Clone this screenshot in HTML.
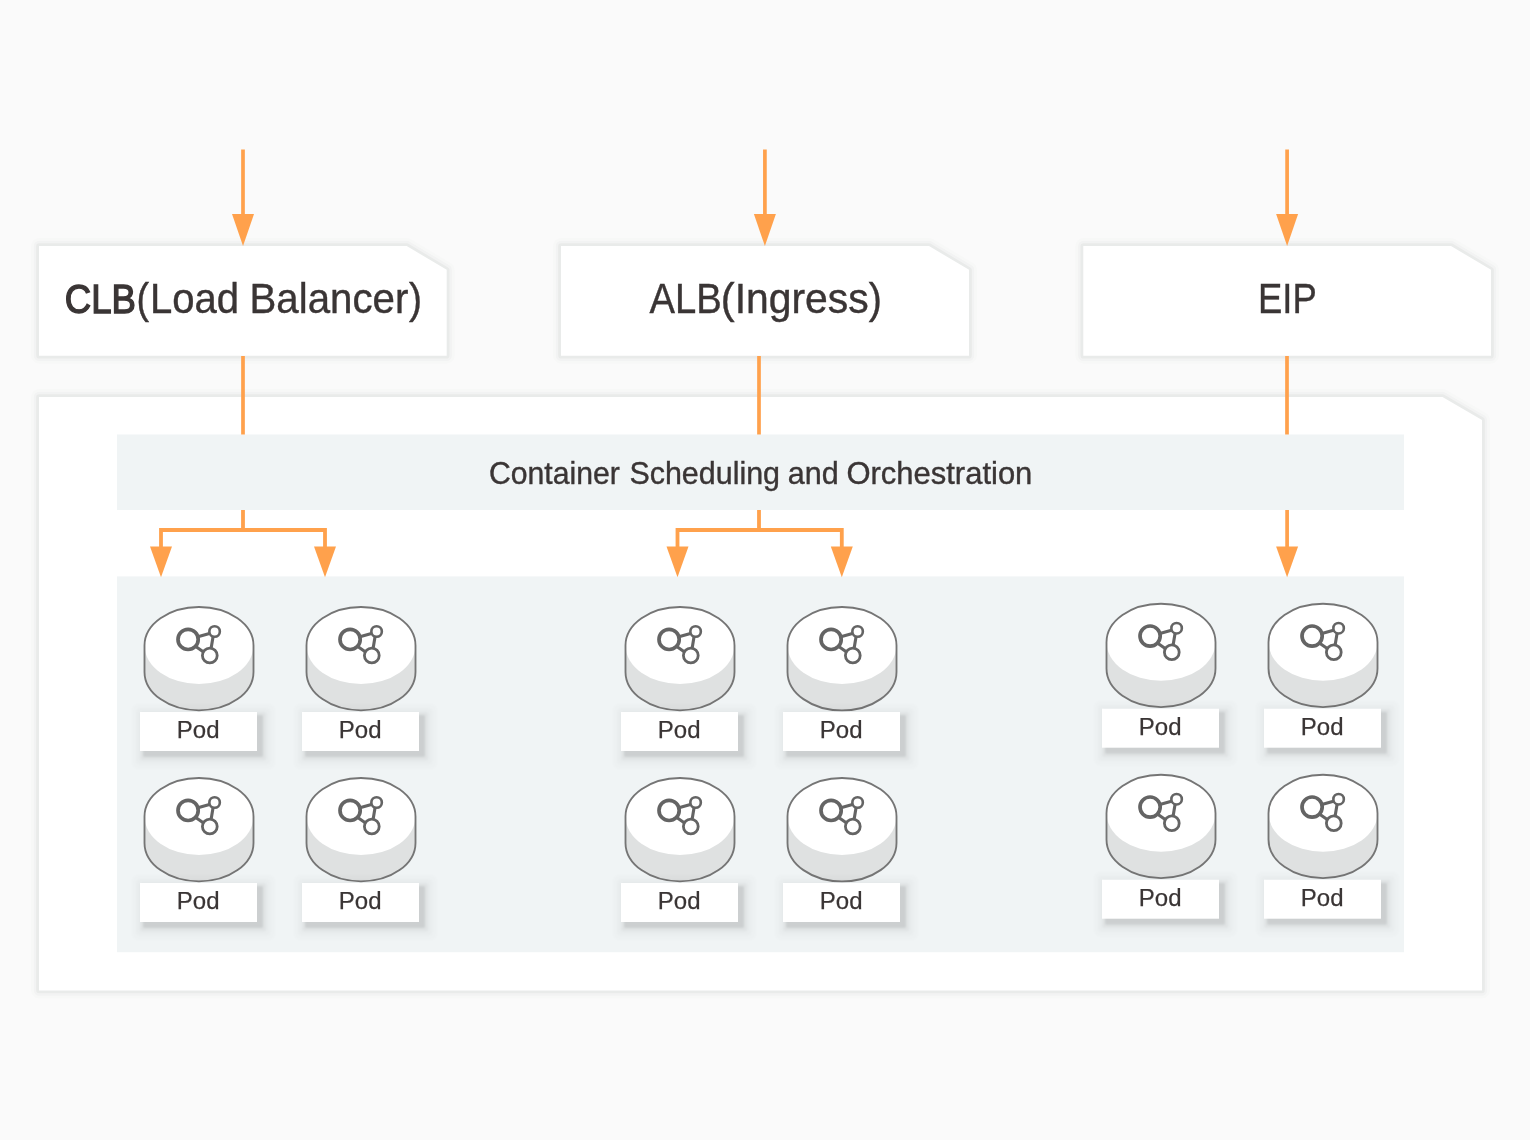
<!DOCTYPE html>
<html><head><meta charset="utf-8"><title>Diagram</title>
<style>
html,body{margin:0;padding:0;background:#FAFAFA;}
body{width:1530px;height:1140px;overflow:hidden;font-family:"Liberation Sans",sans-serif;}
svg{display:block;will-change:transform;}
text{font-family:"Liberation Sans",sans-serif;fill:#3A3535;}
</style></head><body>
<svg width="1530" height="1140" viewBox="0 0 1530 1140">
<defs>

<filter id="soft" color-interpolation-filters="sRGB" x="-5%" y="-10%" width="110%" height="120%"><feGaussianBlur stdDeviation="0.7"/></filter>
<filter id="soft2" color-interpolation-filters="sRGB" x="-20%" y="-40%" width="140%" height="180%"><feGaussianBlur stdDeviation="0.9"/></filter>

</defs>
<rect width="1530" height="1140" fill="#FAFAFA"/>

<g filter="url(#soft)" fill="none" stroke="#0a2e24" stroke-linejoin="round"><path d="M39 397 L1442.5 397 L1482 420 L1482 990.5 L39 990.5 Z" stroke-width="16" stroke-opacity="0.012"/><path d="M39 397 L1442.5 397 L1482 420 L1482 990.5 L39 990.5 Z" stroke-width="10.4" stroke-opacity="0.023"/><path d="M39 397 L1442.5 397 L1482 420 L1482 990.5 L39 990.5 Z" stroke-width="5.6" stroke-opacity="0.04"/></g><path d="M39 397 L1442.5 397 L1482 420 L1482 990.5 L39 990.5 Z" fill="#fff"/>
<g filter="url(#soft)" fill="none" stroke="#0a2e24" stroke-linejoin="round"><path d="M39 246 L406.7 246 L446.7 269.8 L446.7 355.7 L39 355.7 Z" stroke-width="16" stroke-opacity="0.012"/><path d="M39 246 L406.7 246 L446.7 269.8 L446.7 355.7 L39 355.7 Z" stroke-width="10.4" stroke-opacity="0.023"/><path d="M39 246 L406.7 246 L446.7 269.8 L446.7 355.7 L39 355.7 Z" stroke-width="5.6" stroke-opacity="0.04"/></g><path d="M39 246 L406.7 246 L446.7 269.8 L446.7 355.7 L39 355.7 Z" fill="#fff"/>
<g filter="url(#soft)" fill="none" stroke="#0a2e24" stroke-linejoin="round"><path d="M561 246 L929 246 L969 269.8 L969 355.7 L561 355.7 Z" stroke-width="16" stroke-opacity="0.012"/><path d="M561 246 L929 246 L969 269.8 L969 355.7 L561 355.7 Z" stroke-width="10.4" stroke-opacity="0.023"/><path d="M561 246 L929 246 L969 269.8 L969 355.7 L561 355.7 Z" stroke-width="5.6" stroke-opacity="0.04"/></g><path d="M561 246 L929 246 L969 269.8 L969 355.7 L561 355.7 Z" fill="#fff"/>
<g filter="url(#soft)" fill="none" stroke="#0a2e24" stroke-linejoin="round"><path d="M1083.3 246 L1451 246 L1491 269.8 L1491 355.7 L1083.3 355.7 Z" stroke-width="16" stroke-opacity="0.012"/><path d="M1083.3 246 L1451 246 L1491 269.8 L1491 355.7 L1083.3 355.7 Z" stroke-width="10.4" stroke-opacity="0.023"/><path d="M1083.3 246 L1451 246 L1491 269.8 L1491 355.7 L1083.3 355.7 Z" stroke-width="5.6" stroke-opacity="0.04"/></g><path d="M1083.3 246 L1451 246 L1491 269.8 L1491 355.7 L1083.3 355.7 Z" fill="#fff"/>
<rect x="117" y="434.5" width="1287" height="75.5" fill="#F0F4F5"/>
<rect x="117" y="576.4" width="1287" height="375.8" fill="#F0F4F5"/>
<rect x="241.15" y="149.5" width="3.7" height="66" fill="#FFA14C"/>
<path d="M232.0 214 L254.0 214 L243 246 Z" fill="#FFA14C"/>
<rect x="763.05" y="149.5" width="3.7" height="66" fill="#FFA14C"/>
<path d="M753.9 214 L775.9 214 L764.9 246 Z" fill="#FFA14C"/>
<rect x="1285.25" y="149.5" width="3.7" height="66" fill="#FFA14C"/>
<path d="M1276.1 214 L1298.1 214 L1287.1 246 Z" fill="#FFA14C"/>
<rect x="241.15" y="356" width="3.7" height="78.5" fill="#FFA14C"/>
<rect x="757.15" y="356" width="3.7" height="78.5" fill="#FFA14C"/>
<rect x="1285.15" y="356" width="3.7" height="78.5" fill="#FFA14C"/>
<path d="M243 510 L243 530 M161 547 L161 530 L325 530 L325 547" stroke="#FFA14C" stroke-width="3.8" fill="none" stroke-linejoin="miter"/>
<path d="M150.0 546.4000000000001 L172.0 546.4000000000001 L161 577.2 Z" fill="#FFA14C"/>
<path d="M314.0 546.4000000000001 L336.0 546.4000000000001 L325 577.2 Z" fill="#FFA14C"/>
<path d="M759 510 L759 530 M677.5 547 L677.5 530 L841.8 530 L841.8 547" stroke="#FFA14C" stroke-width="3.8" fill="none" stroke-linejoin="miter"/>
<path d="M666.5 546.4000000000001 L688.5 546.4000000000001 L677.5 577.2 Z" fill="#FFA14C"/>
<path d="M830.8 546.4000000000001 L852.8 546.4000000000001 L841.8 577.2 Z" fill="#FFA14C"/>
<rect x="1285.25" y="510" width="3.7" height="38" fill="#FFA14C"/>
<path d="M1276.1 546.4000000000001 L1298.1 546.4000000000001 L1287.1 577.2 Z" fill="#FFA14C"/>
<text x="64.76" y="312.6" font-size="41" stroke="#3A3535" stroke-width="1.4" textLength="71.3" lengthAdjust="spacingAndGlyphs">CLB</text>
<text x="136.46" y="312.8" font-size="42" stroke="#3A3535" stroke-width="0.4" textLength="12.54" lengthAdjust="spacingAndGlyphs">(</text>
<text x="149.9" y="312.8" font-size="42" stroke="#3A3535" stroke-width="0.4" textLength="89.12" lengthAdjust="spacingAndGlyphs">Load</text>
<text x="249.49" y="312.8" font-size="42" stroke="#3A3535" stroke-width="0.4" textLength="158.81" lengthAdjust="spacingAndGlyphs">Balancer</text>
<text x="408.9" y="312.8" font-size="42" stroke="#3A3535" stroke-width="0.4" textLength="13.03" lengthAdjust="spacingAndGlyphs">)</text>
<text x="649.43" y="312.8" font-size="42" stroke="#3A3535" stroke-width="0.4" textLength="72.22" lengthAdjust="spacingAndGlyphs">ALB</text>
<text x="720.82" y="312.8" font-size="42" stroke="#3A3535" stroke-width="0.4" textLength="13.88" lengthAdjust="spacingAndGlyphs">(</text>
<text x="734.65" y="312.8" font-size="42" stroke="#3A3535" stroke-width="0.4" textLength="134.05" lengthAdjust="spacingAndGlyphs">Ingress</text>
<text x="868.7" y="312.8" font-size="42" stroke="#3A3535" stroke-width="0.4" textLength="13.15" lengthAdjust="spacingAndGlyphs">)</text>
<text x="1257.98" y="312.8" font-size="42" stroke="#3A3535" stroke-width="0.4" textLength="58.71" lengthAdjust="spacingAndGlyphs">EIP</text>
<text x="488.99" y="484.1" font-size="32" stroke="#3A3535" stroke-width="0.4" textLength="130.85" lengthAdjust="spacingAndGlyphs">Container</text>
<text x="629.41" y="484.1" font-size="32" stroke="#3A3535" stroke-width="0.4" textLength="150.64" lengthAdjust="spacingAndGlyphs">Scheduling</text>
<text x="787.81" y="484.1" font-size="32" stroke="#3A3535" stroke-width="0.4" textLength="50.89" lengthAdjust="spacingAndGlyphs">and</text>
<text x="846.39" y="484.1" font-size="32" stroke="#3A3535" stroke-width="0.4" textLength="185.98" lengthAdjust="spacingAndGlyphs">Orchestration</text>
<path d="M144.5 645.5 L144.5 671.9 A54.5 38.5 0 0 0 253.5 671.9 L253.5 645.5 Z" fill="#DFE1E1"/>
<ellipse cx="199" cy="645.5" rx="54.5" ry="38.5" fill="#FFFFFF"/>
<path d="M144.5 645.5 A54.5 38.5 0 0 1 253.5 645.5 L253.5 671.9 A54.5 38.5 0 0 1 144.5 671.9 Z" fill="none" stroke="#757575" stroke-width="1.85" stroke-linejoin="round"/>
<g transform="translate(0 0)" stroke="#646464" fill="none"><path d="M197 637 L213 632.5 M213.5 634 L210.5 652 M195 646 L205 653" stroke-width="3.1"/><circle cx="188.1" cy="639.4" r="10.1" stroke-width="3.7" fill="#fff"/><circle cx="214.6" cy="631.5" r="5.25" stroke-width="2.6" fill="#fff"/><circle cx="209.8" cy="655.5" r="7.4" stroke-width="2.8" fill="#fff"/></g>
<g filter="url(#soft2)" fill="#000"><rect x="132" y="704" width="143" height="65" rx="6" fill-opacity="0.013"/><rect x="136" y="708" width="134.5" height="56.5" rx="4" fill-opacity="0.018"/><rect x="140" y="712" width="126.5" height="48.5" rx="2" fill-opacity="0.038"/><rect x="143" y="715" width="120" height="42" rx="1" fill-opacity="0.093"/></g>
<rect x="140" y="712" width="117" height="39" fill="#fff"/>
<text x="176.86" y="738.1" font-size="24.8" stroke="#3A3535" stroke-width="0.25" textLength="42.71" lengthAdjust="spacingAndGlyphs">Pod</text>
<path d="M144.5 816.5 L144.5 842.9 A54.5 38.5 0 0 0 253.5 842.9 L253.5 816.5 Z" fill="#DFE1E1"/>
<ellipse cx="199" cy="816.5" rx="54.5" ry="38.5" fill="#FFFFFF"/>
<path d="M144.5 816.5 A54.5 38.5 0 0 1 253.5 816.5 L253.5 842.9 A54.5 38.5 0 0 1 144.5 842.9 Z" fill="none" stroke="#757575" stroke-width="1.85" stroke-linejoin="round"/>
<g transform="translate(0 171)" stroke="#646464" fill="none"><path d="M197 637 L213 632.5 M213.5 634 L210.5 652 M195 646 L205 653" stroke-width="3.1"/><circle cx="188.1" cy="639.4" r="10.1" stroke-width="3.7" fill="#fff"/><circle cx="214.6" cy="631.5" r="5.25" stroke-width="2.6" fill="#fff"/><circle cx="209.8" cy="655.5" r="7.4" stroke-width="2.8" fill="#fff"/></g>
<g filter="url(#soft2)" fill="#000"><rect x="132" y="875" width="143" height="65" rx="6" fill-opacity="0.013"/><rect x="136" y="879" width="134.5" height="56.5" rx="4" fill-opacity="0.018"/><rect x="140" y="883" width="126.5" height="48.5" rx="2" fill-opacity="0.038"/><rect x="143" y="886" width="120" height="42" rx="1" fill-opacity="0.093"/></g>
<rect x="140" y="883" width="117" height="39" fill="#fff"/>
<text x="176.86" y="909.1" font-size="24.8" stroke="#3A3535" stroke-width="0.25" textLength="42.71" lengthAdjust="spacingAndGlyphs">Pod</text>
<path d="M306.5 645.5 L306.5 671.9 A54.5 38.5 0 0 0 415.5 671.9 L415.5 645.5 Z" fill="#DFE1E1"/>
<ellipse cx="361" cy="645.5" rx="54.5" ry="38.5" fill="#FFFFFF"/>
<path d="M306.5 645.5 A54.5 38.5 0 0 1 415.5 645.5 L415.5 671.9 A54.5 38.5 0 0 1 306.5 671.9 Z" fill="none" stroke="#757575" stroke-width="1.85" stroke-linejoin="round"/>
<g transform="translate(162 0)" stroke="#646464" fill="none"><path d="M197 637 L213 632.5 M213.5 634 L210.5 652 M195 646 L205 653" stroke-width="3.1"/><circle cx="188.1" cy="639.4" r="10.1" stroke-width="3.7" fill="#fff"/><circle cx="214.6" cy="631.5" r="5.25" stroke-width="2.6" fill="#fff"/><circle cx="209.8" cy="655.5" r="7.4" stroke-width="2.8" fill="#fff"/></g>
<g filter="url(#soft2)" fill="#000"><rect x="294" y="704" width="143" height="65" rx="6" fill-opacity="0.013"/><rect x="298" y="708" width="134.5" height="56.5" rx="4" fill-opacity="0.018"/><rect x="302" y="712" width="126.5" height="48.5" rx="2" fill-opacity="0.038"/><rect x="305" y="715" width="120" height="42" rx="1" fill-opacity="0.093"/></g>
<rect x="302" y="712" width="117" height="39" fill="#fff"/>
<text x="338.86" y="738.1" font-size="24.8" stroke="#3A3535" stroke-width="0.25" textLength="42.71" lengthAdjust="spacingAndGlyphs">Pod</text>
<path d="M306.5 816.5 L306.5 842.9 A54.5 38.5 0 0 0 415.5 842.9 L415.5 816.5 Z" fill="#DFE1E1"/>
<ellipse cx="361" cy="816.5" rx="54.5" ry="38.5" fill="#FFFFFF"/>
<path d="M306.5 816.5 A54.5 38.5 0 0 1 415.5 816.5 L415.5 842.9 A54.5 38.5 0 0 1 306.5 842.9 Z" fill="none" stroke="#757575" stroke-width="1.85" stroke-linejoin="round"/>
<g transform="translate(162 171)" stroke="#646464" fill="none"><path d="M197 637 L213 632.5 M213.5 634 L210.5 652 M195 646 L205 653" stroke-width="3.1"/><circle cx="188.1" cy="639.4" r="10.1" stroke-width="3.7" fill="#fff"/><circle cx="214.6" cy="631.5" r="5.25" stroke-width="2.6" fill="#fff"/><circle cx="209.8" cy="655.5" r="7.4" stroke-width="2.8" fill="#fff"/></g>
<g filter="url(#soft2)" fill="#000"><rect x="294" y="875" width="143" height="65" rx="6" fill-opacity="0.013"/><rect x="298" y="879" width="134.5" height="56.5" rx="4" fill-opacity="0.018"/><rect x="302" y="883" width="126.5" height="48.5" rx="2" fill-opacity="0.038"/><rect x="305" y="886" width="120" height="42" rx="1" fill-opacity="0.093"/></g>
<rect x="302" y="883" width="117" height="39" fill="#fff"/>
<text x="338.86" y="909.1" font-size="24.8" stroke="#3A3535" stroke-width="0.25" textLength="42.71" lengthAdjust="spacingAndGlyphs">Pod</text>
<path d="M625.5 645.5 L625.5 671.9 A54.5 38.5 0 0 0 734.5 671.9 L734.5 645.5 Z" fill="#DFE1E1"/>
<ellipse cx="680" cy="645.5" rx="54.5" ry="38.5" fill="#FFFFFF"/>
<path d="M625.5 645.5 A54.5 38.5 0 0 1 734.5 645.5 L734.5 671.9 A54.5 38.5 0 0 1 625.5 671.9 Z" fill="none" stroke="#757575" stroke-width="1.85" stroke-linejoin="round"/>
<g transform="translate(481 0)" stroke="#646464" fill="none"><path d="M197 637 L213 632.5 M213.5 634 L210.5 652 M195 646 L205 653" stroke-width="3.1"/><circle cx="188.1" cy="639.4" r="10.1" stroke-width="3.7" fill="#fff"/><circle cx="214.6" cy="631.5" r="5.25" stroke-width="2.6" fill="#fff"/><circle cx="209.8" cy="655.5" r="7.4" stroke-width="2.8" fill="#fff"/></g>
<g filter="url(#soft2)" fill="#000"><rect x="613" y="704" width="143" height="65" rx="6" fill-opacity="0.013"/><rect x="617" y="708" width="134.5" height="56.5" rx="4" fill-opacity="0.018"/><rect x="621" y="712" width="126.5" height="48.5" rx="2" fill-opacity="0.038"/><rect x="624" y="715" width="120" height="42" rx="1" fill-opacity="0.093"/></g>
<rect x="621" y="712" width="117" height="39" fill="#fff"/>
<text x="657.86" y="738.1" font-size="24.8" stroke="#3A3535" stroke-width="0.25" textLength="42.71" lengthAdjust="spacingAndGlyphs">Pod</text>
<path d="M625.5 816.5 L625.5 842.9 A54.5 38.5 0 0 0 734.5 842.9 L734.5 816.5 Z" fill="#DFE1E1"/>
<ellipse cx="680" cy="816.5" rx="54.5" ry="38.5" fill="#FFFFFF"/>
<path d="M625.5 816.5 A54.5 38.5 0 0 1 734.5 816.5 L734.5 842.9 A54.5 38.5 0 0 1 625.5 842.9 Z" fill="none" stroke="#757575" stroke-width="1.85" stroke-linejoin="round"/>
<g transform="translate(481 171)" stroke="#646464" fill="none"><path d="M197 637 L213 632.5 M213.5 634 L210.5 652 M195 646 L205 653" stroke-width="3.1"/><circle cx="188.1" cy="639.4" r="10.1" stroke-width="3.7" fill="#fff"/><circle cx="214.6" cy="631.5" r="5.25" stroke-width="2.6" fill="#fff"/><circle cx="209.8" cy="655.5" r="7.4" stroke-width="2.8" fill="#fff"/></g>
<g filter="url(#soft2)" fill="#000"><rect x="613" y="875" width="143" height="65" rx="6" fill-opacity="0.013"/><rect x="617" y="879" width="134.5" height="56.5" rx="4" fill-opacity="0.018"/><rect x="621" y="883" width="126.5" height="48.5" rx="2" fill-opacity="0.038"/><rect x="624" y="886" width="120" height="42" rx="1" fill-opacity="0.093"/></g>
<rect x="621" y="883" width="117" height="39" fill="#fff"/>
<text x="657.86" y="909.1" font-size="24.8" stroke="#3A3535" stroke-width="0.25" textLength="42.71" lengthAdjust="spacingAndGlyphs">Pod</text>
<path d="M787.5 645.5 L787.5 671.9 A54.5 38.5 0 0 0 896.5 671.9 L896.5 645.5 Z" fill="#DFE1E1"/>
<ellipse cx="842" cy="645.5" rx="54.5" ry="38.5" fill="#FFFFFF"/>
<path d="M787.5 645.5 A54.5 38.5 0 0 1 896.5 645.5 L896.5 671.9 A54.5 38.5 0 0 1 787.5 671.9 Z" fill="none" stroke="#757575" stroke-width="1.85" stroke-linejoin="round"/>
<g transform="translate(643 0)" stroke="#646464" fill="none"><path d="M197 637 L213 632.5 M213.5 634 L210.5 652 M195 646 L205 653" stroke-width="3.1"/><circle cx="188.1" cy="639.4" r="10.1" stroke-width="3.7" fill="#fff"/><circle cx="214.6" cy="631.5" r="5.25" stroke-width="2.6" fill="#fff"/><circle cx="209.8" cy="655.5" r="7.4" stroke-width="2.8" fill="#fff"/></g>
<g filter="url(#soft2)" fill="#000"><rect x="775" y="704" width="143" height="65" rx="6" fill-opacity="0.013"/><rect x="779" y="708" width="134.5" height="56.5" rx="4" fill-opacity="0.018"/><rect x="783" y="712" width="126.5" height="48.5" rx="2" fill-opacity="0.038"/><rect x="786" y="715" width="120" height="42" rx="1" fill-opacity="0.093"/></g>
<rect x="783" y="712" width="117" height="39" fill="#fff"/>
<text x="819.86" y="738.1" font-size="24.8" stroke="#3A3535" stroke-width="0.25" textLength="42.71" lengthAdjust="spacingAndGlyphs">Pod</text>
<path d="M787.5 816.5 L787.5 842.9 A54.5 38.5 0 0 0 896.5 842.9 L896.5 816.5 Z" fill="#DFE1E1"/>
<ellipse cx="842" cy="816.5" rx="54.5" ry="38.5" fill="#FFFFFF"/>
<path d="M787.5 816.5 A54.5 38.5 0 0 1 896.5 816.5 L896.5 842.9 A54.5 38.5 0 0 1 787.5 842.9 Z" fill="none" stroke="#757575" stroke-width="1.85" stroke-linejoin="round"/>
<g transform="translate(643 171)" stroke="#646464" fill="none"><path d="M197 637 L213 632.5 M213.5 634 L210.5 652 M195 646 L205 653" stroke-width="3.1"/><circle cx="188.1" cy="639.4" r="10.1" stroke-width="3.7" fill="#fff"/><circle cx="214.6" cy="631.5" r="5.25" stroke-width="2.6" fill="#fff"/><circle cx="209.8" cy="655.5" r="7.4" stroke-width="2.8" fill="#fff"/></g>
<g filter="url(#soft2)" fill="#000"><rect x="775" y="875" width="143" height="65" rx="6" fill-opacity="0.013"/><rect x="779" y="879" width="134.5" height="56.5" rx="4" fill-opacity="0.018"/><rect x="783" y="883" width="126.5" height="48.5" rx="2" fill-opacity="0.038"/><rect x="786" y="886" width="120" height="42" rx="1" fill-opacity="0.093"/></g>
<rect x="783" y="883" width="117" height="39" fill="#fff"/>
<text x="819.86" y="909.1" font-size="24.8" stroke="#3A3535" stroke-width="0.25" textLength="42.71" lengthAdjust="spacingAndGlyphs">Pod</text>
<path d="M1106.5 642.2 L1106.5 668.6 A54.5 38.5 0 0 0 1215.5 668.6 L1215.5 642.2 Z" fill="#DFE1E1"/>
<ellipse cx="1161" cy="642.2" rx="54.5" ry="38.5" fill="#FFFFFF"/>
<path d="M1106.5 642.2 A54.5 38.5 0 0 1 1215.5 642.2 L1215.5 668.6 A54.5 38.5 0 0 1 1106.5 668.6 Z" fill="none" stroke="#757575" stroke-width="1.85" stroke-linejoin="round"/>
<g transform="translate(962 -3.2999999999999545)" stroke="#646464" fill="none"><path d="M197 637 L213 632.5 M213.5 634 L210.5 652 M195 646 L205 653" stroke-width="3.1"/><circle cx="188.1" cy="639.4" r="10.1" stroke-width="3.7" fill="#fff"/><circle cx="214.6" cy="631.5" r="5.25" stroke-width="2.6" fill="#fff"/><circle cx="209.8" cy="655.5" r="7.4" stroke-width="2.8" fill="#fff"/></g>
<g filter="url(#soft2)" fill="#000"><rect x="1094" y="700.7" width="143" height="65" rx="6" fill-opacity="0.013"/><rect x="1098" y="704.7" width="134.5" height="56.5" rx="4" fill-opacity="0.018"/><rect x="1102" y="708.7" width="126.5" height="48.5" rx="2" fill-opacity="0.038"/><rect x="1105" y="711.7" width="120" height="42" rx="1" fill-opacity="0.093"/></g>
<rect x="1102" y="708.7" width="117" height="39" fill="#fff"/>
<text x="1138.86" y="734.8" font-size="24.8" stroke="#3A3535" stroke-width="0.25" textLength="42.71" lengthAdjust="spacingAndGlyphs">Pod</text>
<path d="M1106.5 813.2 L1106.5 839.6 A54.5 38.5 0 0 0 1215.5 839.6 L1215.5 813.2 Z" fill="#DFE1E1"/>
<ellipse cx="1161" cy="813.2" rx="54.5" ry="38.5" fill="#FFFFFF"/>
<path d="M1106.5 813.2 A54.5 38.5 0 0 1 1215.5 813.2 L1215.5 839.6 A54.5 38.5 0 0 1 1106.5 839.6 Z" fill="none" stroke="#757575" stroke-width="1.85" stroke-linejoin="round"/>
<g transform="translate(962 167.70000000000005)" stroke="#646464" fill="none"><path d="M197 637 L213 632.5 M213.5 634 L210.5 652 M195 646 L205 653" stroke-width="3.1"/><circle cx="188.1" cy="639.4" r="10.1" stroke-width="3.7" fill="#fff"/><circle cx="214.6" cy="631.5" r="5.25" stroke-width="2.6" fill="#fff"/><circle cx="209.8" cy="655.5" r="7.4" stroke-width="2.8" fill="#fff"/></g>
<g filter="url(#soft2)" fill="#000"><rect x="1094" y="871.7" width="143" height="65" rx="6" fill-opacity="0.013"/><rect x="1098" y="875.7" width="134.5" height="56.5" rx="4" fill-opacity="0.018"/><rect x="1102" y="879.7" width="126.5" height="48.5" rx="2" fill-opacity="0.038"/><rect x="1105" y="882.7" width="120" height="42" rx="1" fill-opacity="0.093"/></g>
<rect x="1102" y="879.7" width="117" height="39" fill="#fff"/>
<text x="1138.86" y="905.8" font-size="24.8" stroke="#3A3535" stroke-width="0.25" textLength="42.71" lengthAdjust="spacingAndGlyphs">Pod</text>
<path d="M1268.5 642.2 L1268.5 668.6 A54.5 38.5 0 0 0 1377.5 668.6 L1377.5 642.2 Z" fill="#DFE1E1"/>
<ellipse cx="1323" cy="642.2" rx="54.5" ry="38.5" fill="#FFFFFF"/>
<path d="M1268.5 642.2 A54.5 38.5 0 0 1 1377.5 642.2 L1377.5 668.6 A54.5 38.5 0 0 1 1268.5 668.6 Z" fill="none" stroke="#757575" stroke-width="1.85" stroke-linejoin="round"/>
<g transform="translate(1124 -3.2999999999999545)" stroke="#646464" fill="none"><path d="M197 637 L213 632.5 M213.5 634 L210.5 652 M195 646 L205 653" stroke-width="3.1"/><circle cx="188.1" cy="639.4" r="10.1" stroke-width="3.7" fill="#fff"/><circle cx="214.6" cy="631.5" r="5.25" stroke-width="2.6" fill="#fff"/><circle cx="209.8" cy="655.5" r="7.4" stroke-width="2.8" fill="#fff"/></g>
<g filter="url(#soft2)" fill="#000"><rect x="1256" y="700.7" width="143" height="65" rx="6" fill-opacity="0.013"/><rect x="1260" y="704.7" width="134.5" height="56.5" rx="4" fill-opacity="0.018"/><rect x="1264" y="708.7" width="126.5" height="48.5" rx="2" fill-opacity="0.038"/><rect x="1267" y="711.7" width="120" height="42" rx="1" fill-opacity="0.093"/></g>
<rect x="1264" y="708.7" width="117" height="39" fill="#fff"/>
<text x="1300.86" y="734.8" font-size="24.8" stroke="#3A3535" stroke-width="0.25" textLength="42.71" lengthAdjust="spacingAndGlyphs">Pod</text>
<path d="M1268.5 813.2 L1268.5 839.6 A54.5 38.5 0 0 0 1377.5 839.6 L1377.5 813.2 Z" fill="#DFE1E1"/>
<ellipse cx="1323" cy="813.2" rx="54.5" ry="38.5" fill="#FFFFFF"/>
<path d="M1268.5 813.2 A54.5 38.5 0 0 1 1377.5 813.2 L1377.5 839.6 A54.5 38.5 0 0 1 1268.5 839.6 Z" fill="none" stroke="#757575" stroke-width="1.85" stroke-linejoin="round"/>
<g transform="translate(1124 167.70000000000005)" stroke="#646464" fill="none"><path d="M197 637 L213 632.5 M213.5 634 L210.5 652 M195 646 L205 653" stroke-width="3.1"/><circle cx="188.1" cy="639.4" r="10.1" stroke-width="3.7" fill="#fff"/><circle cx="214.6" cy="631.5" r="5.25" stroke-width="2.6" fill="#fff"/><circle cx="209.8" cy="655.5" r="7.4" stroke-width="2.8" fill="#fff"/></g>
<g filter="url(#soft2)" fill="#000"><rect x="1256" y="871.7" width="143" height="65" rx="6" fill-opacity="0.013"/><rect x="1260" y="875.7" width="134.5" height="56.5" rx="4" fill-opacity="0.018"/><rect x="1264" y="879.7" width="126.5" height="48.5" rx="2" fill-opacity="0.038"/><rect x="1267" y="882.7" width="120" height="42" rx="1" fill-opacity="0.093"/></g>
<rect x="1264" y="879.7" width="117" height="39" fill="#fff"/>
<text x="1300.86" y="905.8" font-size="24.8" stroke="#3A3535" stroke-width="0.25" textLength="42.71" lengthAdjust="spacingAndGlyphs">Pod</text>
</svg></body></html>
